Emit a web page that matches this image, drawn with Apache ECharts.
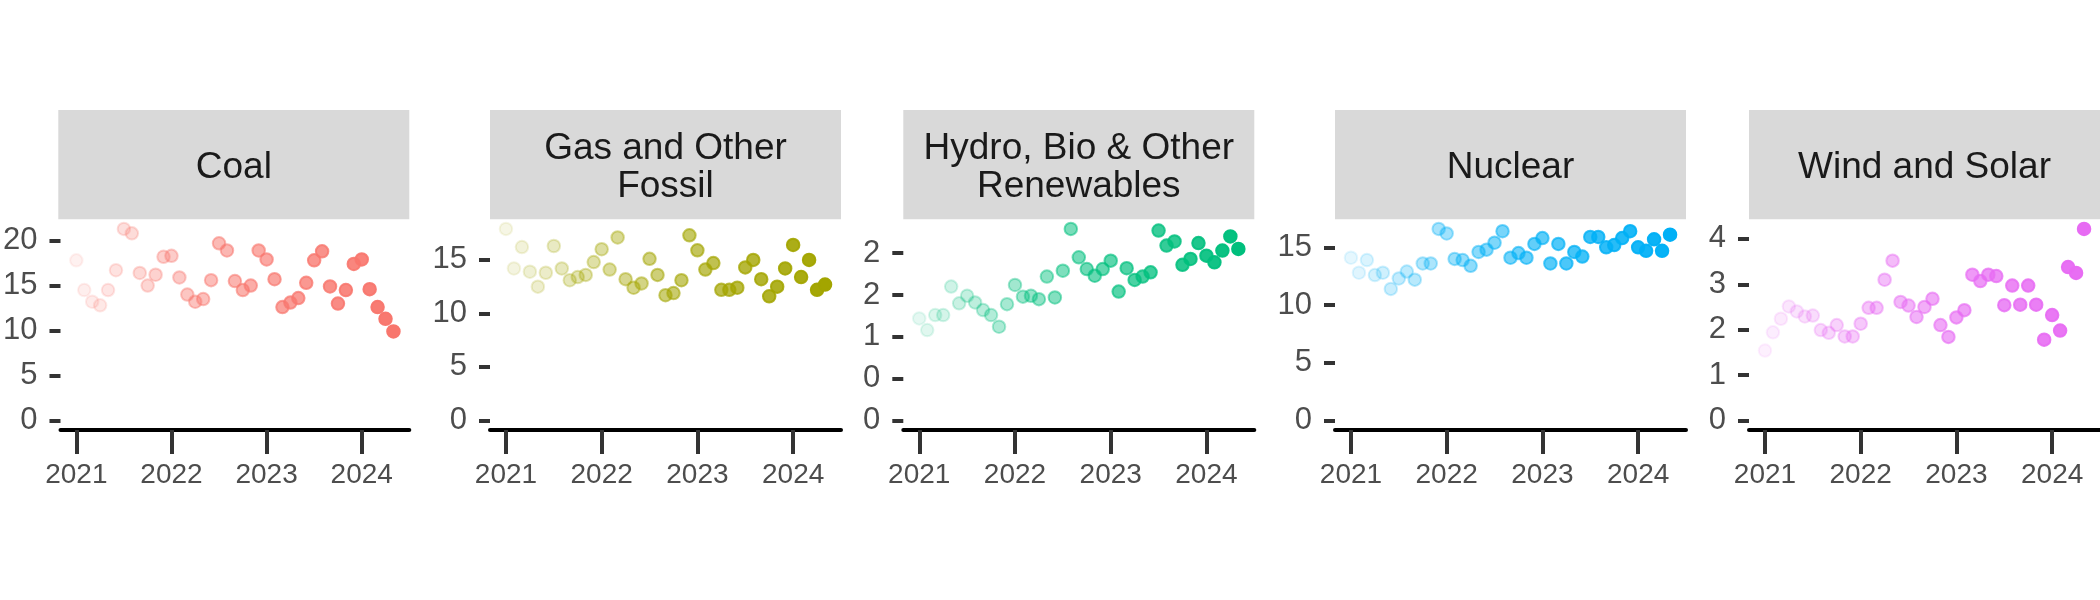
<!DOCTYPE html>
<html>
<head>
<meta charset="utf-8">
<script src="https://cdn.jsdelivr.net/npm/echarts@6/dist/echarts.min.js"></script>
<style>
html,body{margin:0;padding:0;background:#fff;}
#chart{width:2100px;height:600px;}
</style>
</head>
<body>
<div id="chart"></div>
<script>
// ---- data ----
const dates = ['2021-01','2021-02','2021-03','2021-04','2021-05','2021-06','2021-07','2021-08','2021-09','2021-10','2021-11','2021-12',
  '2022-01','2022-02','2022-03','2022-04','2022-05','2022-06','2022-07','2022-08','2022-09','2022-10','2022-11','2022-12',
  '2023-01','2023-02','2023-03','2023-04','2023-05','2023-06','2023-07','2023-08','2023-09','2023-10','2023-11','2023-12',
  '2024-01','2024-02','2024-03','2024-04','2024-05'];
const panelNames = ['Coal', 'Gas and Other\nFossil', 'Hydro, Bio & Other\nRenewables', 'Nuclear', 'Wind and Solar'];
const coal = [17.8,14.5,13.2,12.8,14.5,16.7,21.3,20.8,16.4,15.0,16.2,18.2,
  18.3,15.9,14.0,13.2,13.5,15.6,19.7,18.9,15.5,14.5,15.0,18.9,
  17.9,15.7,12.6,13.1,13.6,15.3,17.8,18.8,14.9,13.0,14.5,17.4,
  17.9,14.6,12.6,11.3,9.9];
const gas = [17.9,14.2,16.2,13.9,12.5,13.8,16.3,14.2,13.1,13.4,13.6,14.8,
  16.0,14.1,17.1,13.2,12.4,12.8,15.1,13.6,11.7,11.9,13.1,17.3,
  15.9,14.1,14.7,12.2,12.2,12.4,14.3,15.0,13.2,11.6,12.5,14.2,
  16.4,13.4,15.0,12.2,12.7];
const hydro = [1.22,1.08,1.26,1.26,1.60,1.40,1.49,1.41,1.32,1.26,1.12,1.39,
  1.62,1.48,1.49,1.45,1.72,1.47,1.79,2.29,1.95,1.81,1.73,1.81,
  1.91,1.54,1.82,1.68,1.72,1.77,2.27,2.09,2.14,1.86,1.93,2.12,
  1.97,1.89,2.03,2.20,2.05];
const nuclear = [14.1,12.8,13.9,12.6,12.8,11.4,12.3,12.9,12.2,13.6,13.6,16.6,
  16.2,14.0,13.9,13.4,14.6,14.8,15.4,16.4,14.1,14.5,14.1,15.3,
  15.8,13.6,15.3,13.6,14.6,14.2,15.9,15.9,15.0,15.2,15.8,16.4,
  15.0,14.7,15.7,14.7,16.1];
const windSolar = [1.54,1.94,2.24,2.51,2.40,2.29,2.31,1.99,1.93,2.10,1.85,1.85,
  2.13,2.48,2.48,3.10,3.52,2.61,2.53,2.28,2.50,2.68,2.10,1.84,
  2.27,2.43,3.21,3.07,3.21,3.18,2.54,2.97,2.55,2.97,2.55,1.78,
  2.32,1.98,3.38,3.25,4.22];
const xTickDates = ['2021-01','2022-01','2023-01','2024-01'];
const xTickLabels = ['2021','2022','2023','2024'];
const yTickValues = [[0,5,10,15,20],[0,5,10,15],[0,0.5,1,1.5,2],[0,5,10,15],[0,1,2,3,4]];
const yTickLabels = [['0','5','10','15','20'],['0','5','10','15'],['0','0','1','2','2'],['0','5','10','15'],['0','1','2','3','4']];

// ---- build ----
const seriesData = [coal, gas, hydro, nuclear, windSolar];
const colors = ['#F8766D','#A3A500','#00BF7D','#00B0F6','#E76BF3'];
const toMonth = d => { const [y, m] = d.split('-').map(Number); return (y - 2021) * 12 + (m - 1); };
const mIdx = dates.map(toMonth);
const mMin = Math.min(...mIdx), mMax = Math.max(...mIdx);
const xPad = (mMax - mMin) * 0.05;

const lefts = [58.3, 490, 903.3, 1335, 1749];
const W = 351, TOP = 219.3, H = 210.7;
const FONT = 'Liberation Sans, Arial, Helvetica, sans-serif';

const grids = [], xAxes = [], yAxes = [], series = [], graphics = [];
seriesData.forEach((vals, p) => {
  grids.push({left: lefts[p], top: TOP, width: W, height: H, containLabel: false});
  xAxes.push({
    type: 'value', gridIndex: p, min: mMin - xPad, max: mMax + xPad,
    splitLine: {show: false},
    axisLine: {show: true, onZero: false, lineStyle: {color: '#000', width: 4}},
    axisTick: {show: true, length: 24, lineStyle: {color: '#333', width: 4}, customValues: xTickDates.map(toMonth)},
    axisLabel: {
      show: true, customValues: xTickDates.map(toMonth), margin: 31,
      fontSize: 28, color: '#4d4d4d', fontFamily: FONT,
      formatter: v => { const k = xTickDates.map(toMonth).indexOf(Math.round(v)); return k >= 0 ? xTickLabels[k] : ''; }
    }
  });
  const vmax = Math.max(...vals);
  yAxes.push({
    type: 'value', gridIndex: p, min: -vmax * 0.05, max: vmax * 1.05,
    splitLine: {show: false},
    axisLine: {show: false, onZero: false},
    axisTick: {show: true, length: 11, lineStyle: {color: '#333', width: 4}, customValues: yTickValues[p]},
    axisLabel: {
      show: true, customValues: yTickValues[p], margin: 23,
      fontSize: 31, color: '#4d4d4d', fontFamily: FONT,
      formatter: v => { const k = yTickValues[p].findIndex(t => Math.abs(t - v) < 1e-6); return k >= 0 ? yTickLabels[p][k] : ''; }
    }
  });
  series.push({
    type: 'scatter', xAxisIndex: p, yAxisIndex: p, symbol: 'circle', symbolSize: 12.5,
    emphasis: {disabled: true},
    data: vals.map((v, i) => ({
      value: [mIdx[i], v],
      itemStyle: {opacity: 0.1 + 0.9 * (mIdx[i] - mMin) / (mMax - mMin)}
    })),
    itemStyle: {color: colors[p], borderColor: colors[p], borderWidth: 2}
  });
  graphics.push({
    type: 'rect', left: lefts[p], top: 110, silent: true,
    shape: {width: W, height: TOP - 110},
    style: {fill: '#d9d9d9'}
  });
  graphics.push({
    type: 'text', x: lefts[p] + W / 2, y: (110 + TOP) / 2 + 3, silent: true,
    style: {text: panelNames[p], fill: '#1a1a1a', font: '37px ' + FONT, align: 'center', verticalAlign: 'middle', lineHeight: 38}
  });
});

const chart = echarts.init(document.getElementById('chart'), null, {renderer: 'canvas'});
chart.setOption({
  animation: false,
  backgroundColor: '#fff',
  grid: grids, xAxis: xAxes, yAxis: yAxes, series: series,
  graphic: graphics
});
</script>
</body>
</html>
